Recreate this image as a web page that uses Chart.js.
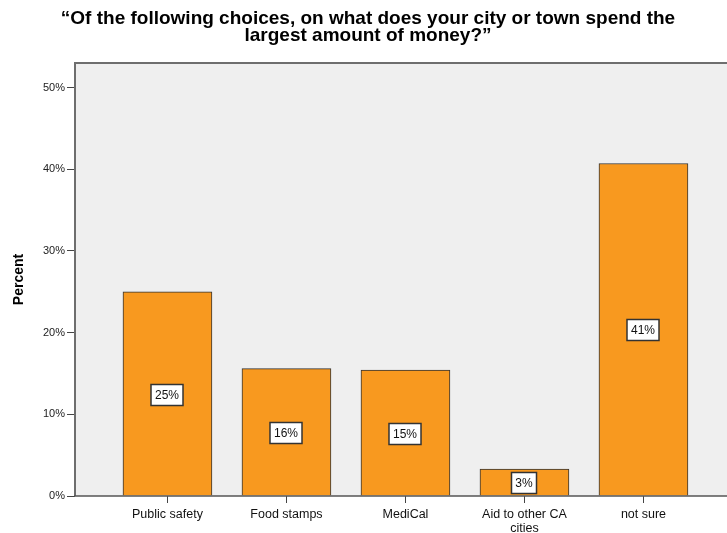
<!DOCTYPE html>
<html>
<head>
<meta charset="utf-8">
<script src="https://cdn.jsdelivr.net/npm/chart.js@4"></script>
<style>
  body { margin: 0; background: #fff; overflow: hidden; }
</style>
</head>
<body>
<canvas id="chart" width="727" height="533"></canvas>
<script>
// Answer categories and the percent of respondents for each
const categories = [['Public safety'], ['Food stamps'], ['MediCal'], ['Aid to other CA', 'cities'], ['not sure']];
const percents = [25.0, 15.6, 15.4, 3.3, 40.7];
const yTicks = [0, 10, 20, 30, 40, 50];
const titleLines = ['\u201COf the following choices, on what does your city or town spend the', 'largest amount of money?\u201D'];

const FONT = 'Arial, "Liberation Sans", sans-serif';

// Two-line title drawn above the plot
const chartTitle = {
  id: 'chartTitle',
  afterDraw(chart) {
    const ctx = chart.ctx;
    ctx.save();
    ctx.font = 'bold 19px ' + FONT;
    ctx.fillStyle = '#000';
    ctx.textAlign = 'center';
    ctx.textBaseline = 'alphabetic';
    titleLines.forEach((line, i) => ctx.fillText(line, 368, 24 + i * 17));
    ctx.restore();
  }
};

// Grey plot background plus the frame lines on top, left and bottom
const plotFrame = {
  id: 'plotFrame',
  beforeDraw(chart) {
    const { ctx, chartArea: a } = chart;
    ctx.save();
    ctx.fillStyle = '#efefef';
    ctx.fillRect(a.left, a.top, a.right - a.left, a.bottom - a.top);
    ctx.restore();
  },
  afterDatasetsDraw(chart) {
    const { ctx, chartArea: a } = chart;
    ctx.save();
    ctx.strokeStyle = '#6e6e6e';
    ctx.lineWidth = 2;
    ctx.beginPath();
    ctx.moveTo(a.left, a.bottom);
    ctx.lineTo(a.left, a.top);
    ctx.lineTo(a.right, a.top);
    ctx.stroke();
    ctx.strokeStyle = '#555';
    ctx.lineWidth = 1.5;
    ctx.beginPath();
    ctx.moveTo(a.left - 1, a.bottom);
    ctx.lineTo(a.right, a.bottom);
    ctx.stroke();
    ctx.restore();
  }
};

// Small white boxes with the rounded percent in the middle of each bar
const valueBoxes = {
  id: 'valueBoxes',
  afterDatasetsDraw(chart) {
    const ctx = chart.ctx;
    const meta = chart.getDatasetMeta(0);
    ctx.save();
    ctx.font = '12px ' + FONT;
    ctx.textAlign = 'center';
    ctx.textBaseline = 'middle';
    meta.data.forEach((bar, i) => {
      const text = Math.round(percents[i]) + '%';
      const w = Math.round(ctx.measureText(text).width) + 8;
      const h = 21;
      const cx = Math.round(bar.x);
      const cy = Math.round((bar.y + bar.base) / 2 + 1);
      ctx.fillStyle = '#fff';
      ctx.fillRect(cx - w / 2, cy - h / 2, w, h);
      ctx.strokeStyle = '#333';
      ctx.lineWidth = 1.5;
      ctx.strokeRect(cx - w / 2, cy - h / 2, w, h);
      ctx.fillStyle = '#111';
      ctx.fillText(text, cx, cy + 1);
    });
    ctx.restore();
  }
};

new Chart(document.getElementById('chart'), {
  type: 'bar',
  data: {
    datasets: [{
      data: percents.map((v, i) => ({ x: i, y: v })),
      backgroundColor: '#f8991f',
      borderColor: '#333',
      borderWidth: 1,
      barThickness: 89
    }]
  },
  options: {
    responsive: false,
    animation: false,
    layout: { padding: { top: 63, left: 0, right: 0, bottom: 0 } },
    plugins: {
      legend: { display: false },
      tooltip: { enabled: false },
      title: { display: false }
    },
    scales: {
      x: {
        type: 'linear',
        offset: false,
        min: -0.777,
        max: 4.702,
        afterBuildTicks: s => { s.ticks = categories.map((c, i) => ({ value: i })); },
        afterFit: s => { s.height = 37; },
        grid: { offset: false, drawOnChartArea: false, drawTicks: true, tickLength: 7, color: '#444' },
        border: { display: false },
        ticks: {
          autoSkip: false,
          maxRotation: 0,
          padding: 4,
          color: '#111',
          font: { family: FONT, size: 12.5, lineHeight: 1.15 },
          callback: (v, i) => categories[i]
        }
      },
      y: {
        min: 0,
        max: 53,
        afterBuildTicks: s => { s.ticks = yTicks.map(v => ({ value: v })); },
        afterFit: s => { s.width = 75; },
        grid: { drawOnChartArea: false, drawTicks: true, tickLength: 8, color: '#444' },
        border: { display: false },
        ticks: {
          padding: 2,
          color: '#222',
          font: { family: FONT, size: 11 },
          callback: v => v + '%'
        },
        title: {
          display: true,
          text: 'Percent',
          color: '#000',
          font: { family: FONT, size: 14, weight: 'bold' },
          padding: { top: 11, bottom: 0 }
        }
      }
    }
  },
  plugins: [plotFrame, valueBoxes, chartTitle]
});
</script>
</body>
</html>
